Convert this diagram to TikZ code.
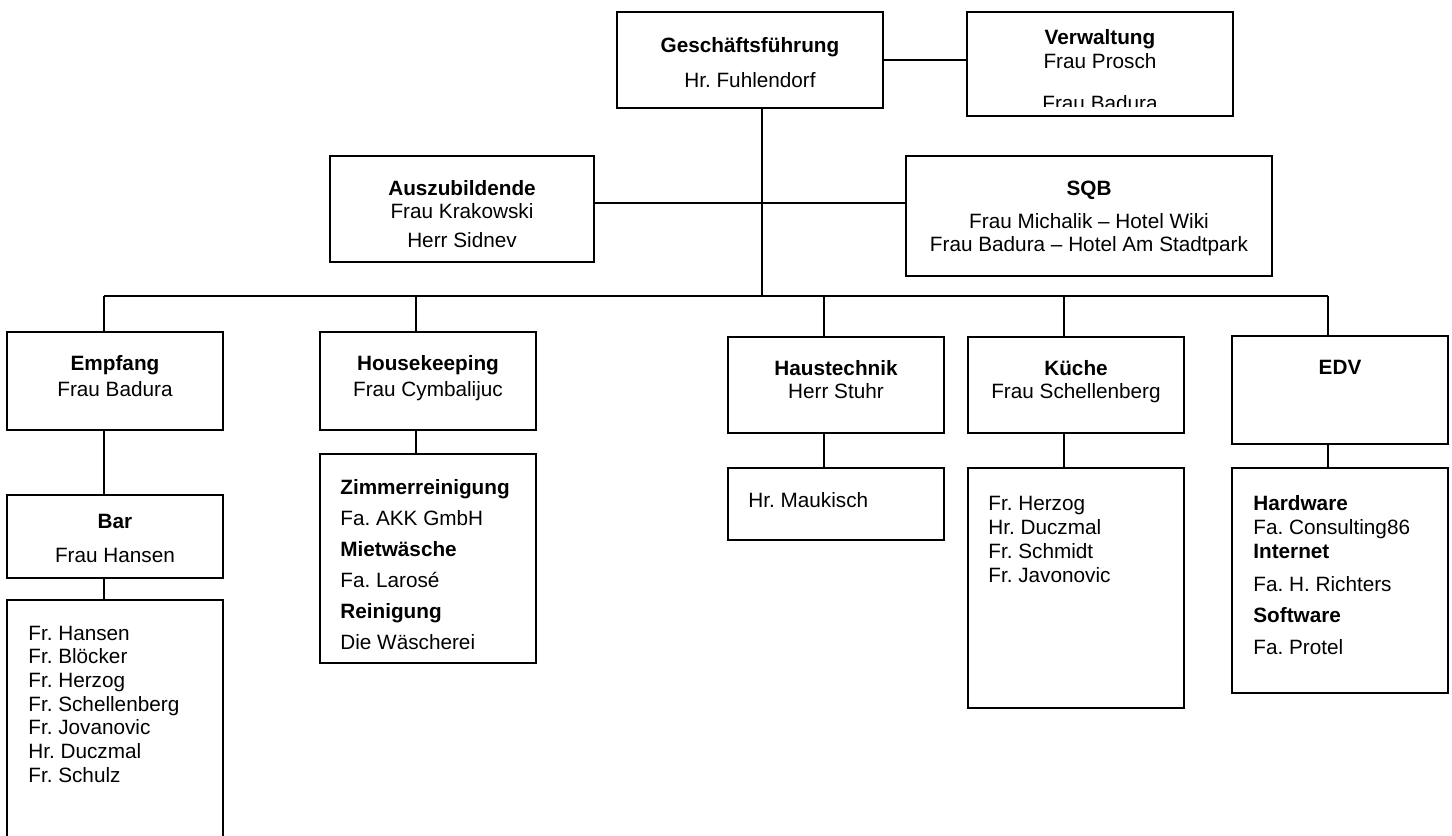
\documentclass[tikz,border=0pt]{standalone}
\usepackage{fontspec}
\setmainfont{Liberation Sans}
\frenchspacing
\usetikzlibrary{fit}
\tikzset{
  box/.style={draw, line width=1pt, inner sep=0pt},
  link/.style={line width=1pt},
  head/.style={anchor=base, inner sep=0pt, font=\fontsize{11.8}{14}\selectfont\bfseries},
  who/.style={anchor=base, inner sep=0pt, font=\fontsize{11.8}{14}\selectfont},
  entry/.style={anchor=base west, inner sep=0pt, font=\fontsize{11.8}{14}\selectfont}
}

\begin{document}
\begin{tikzpicture}[x=0.02cm, y=-0.02cm]
\useasboundingbox (0,0) rectangle (1452,835);
\clip (0,0) rectangle (1452,835);

% top
\node[box, fit={(617,12) (883,108)}] (gf) {};
\node[box, fit={(967,12) (1233,116)}] (verw) {};
\node[box, fit={(330,156) (594,262)}] (azubi) {};
\node[box, fit={(906,156) (1272,276)}] (sqb) {};

\node[head] (gf-a) at (750,52) {Geschäftsführung};
\node[who] (gf-b) at (750,87) {Hr. Fuhlendorf};

\node[head] (verw-a) at (1100,44) {Verwaltung};
\node[who] (verw-b) at (1100,68) {Frau Prosch};
\begin{scope}
\clip (967,12) rectangle (1233,106);
\node[who] (verw-c) at (1100,110) {Frau Badura};
\end{scope}

\node[head] (azubi-a) at (462,195) {Auszubildende};
\node[who] (azubi-b) at (462,218) {Frau Krakowski};
\node[who] (azubi-c) at (462,247) {Herr Sidnev};

\node[head] (sqb-a) at (1089,195) {SQB};
\node[who] (sqb-b) at (1089,228) {Frau Michalik -- Hotel Wiki};
\node[who] (sqb-c) at (1089,251) {Frau Badura -- Hotel Am Stadtpark};

% departments
\node[box, fit={(7,332) (223,430)}] (empf) {};
\node[box, fit={(320,332) (536,430)}] (hk) {};
\node[box, fit={(728,337) (944,433)}] (ht) {};
\node[box, fit={(968,337) (1184,433)}] (kue) {};
\node[box, fit={(1232,336) (1448,444)}] (edv) {};

\node[head] (empf-a) at (115,370) {Empfang};
\node[who] (empf-b) at (115,396) {Frau Badura};
\node[head] (hk-a) at (428,370) {Housekeeping};
\node[who] (hk-b) at (428,396) {Frau Cymbalijuc};
\node[head] (ht-a) at (836,375) {Haustechnik};
\node[who] (ht-b) at (836,398) {Herr Stuhr};
\node[head] (kue-a) at (1076,375) {Küche};
\node[who] (kue-b) at (1076,398) {Frau Schellenberg};
\node[head] (edv-a) at (1340,374) {EDV};

% below
\node[box, fit={(7,495) (223,578)}] (bar) {};
\node[box, fit={(7,600) (223,850)}] (barlist) {};
\node[box, fit={(320,454) (536,663)}] (hk-sub) {};
\node[box, fit={(728,468) (944,540)}] (ht-sub) {};
\node[box, fit={(968,468) (1184,708)}] (kue-sub) {};
\node[box, fit={(1232,468) (1448,693)}] (edv-sub) {};

\node[head] (bar-a) at (115,528) {Bar};
\node[who] (bar-b) at (115,562) {Frau Hansen};

\foreach \t [count=\i from 0] in {Fr. Hansen, Fr. Blöcker, Fr. Herzog, Fr. Schellenberg, Fr. Jovanovic, Hr. Duczmal, Fr. Schulz}
  \node[entry] (barlist-\i) at (28,640+23.7*\i) {\t};

\foreach \t [count=\i from 0] in {\textbf{Zimmerreinigung}, Fa. AKK GmbH, \textbf{Mietwäsche}, Fa. Larosé, \textbf{Reinigung}, Die Wäscherei}
  \node[entry] (hk-sub-\i) at (340,494+31*\i) {\t};

\node[entry] (ht-sub-a) at (748,507) {Hr. Maukisch};

\foreach \t [count=\i from 0] in {Fr. Herzog, Hr. Duczmal, Fr. Schmidt, Fr. Javonovic}
  \node[entry] (kue-sub-\i) at (988,510+24*\i) {\t};

\foreach \y/\t [count=\i from 0] in {510/\textbf{Hardware}, 534/Fa. Consulting86, 558/\textbf{Internet}, 591/Fa. H. Richters, 622/\textbf{Software}, 654/Fa. Protel}
  \node[entry] (edv-sub-\i) at (1253,\y) {\t};

% lines
\coordinate (trunk) at (762,296);
\coordinate (cross) at (762,203);
\coordinate (c-empf) at (104,296);
\coordinate (c-hk) at (416,296);
\coordinate (c-ht) at (824,296);
\coordinate (c-kue) at (1064,296);
\coordinate (c-edv) at (1328,296);

\draw[link] (gf.east) -- (gf.east -| verw.west);
\draw[link] (gf.south -| trunk) -- (trunk);
\draw[link] (azubi.east |- cross) -- (sqb.west |- cross);
\draw[link] (c-empf) -- (c-edv);
\foreach \n in {empf, hk, ht, kue, edv}
  \draw[link] (c-\n) -- (c-\n |- \n.north);
\foreach \n in {hk, ht, kue, edv}
  \draw[link] (c-\n |- \n.south) -- (c-\n |- \n-sub.north);
\draw[link] (c-empf |- empf.south) -- (c-empf |- bar.north);
\draw[link] (c-empf |- bar.south) -- (c-empf |- barlist.north);
\end{tikzpicture}
\end{document}
